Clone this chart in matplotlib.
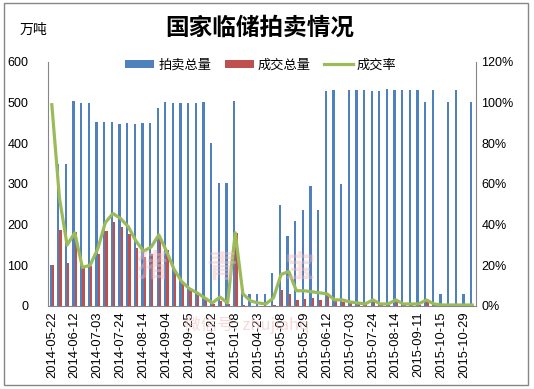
import matplotlib
matplotlib.use("Agg")
import matplotlib.pyplot as plt
import numpy as np
from matplotlib.patches import Rectangle

plt.rcParams['font.family'] = ['Liberation Sans', 'Noto Sans CJK SC', 'DejaVu Sans']

auction = [100, 350, 350, 503, 500, 500, 452, 452, 453, 447, 450, 448, 450, 450,
           486, 501, 500, 500, 500, 500, 501, 400, 302, 302,
           503, 32, 30, 30, 30, 81, 248, 172, 209, 236, 295, 236,
           528, 531, 300, 530, 530, 530, 528, 528, 533, 530, 530, 530, 530, 501,
           530, 30, 501, 530, 30, 501]
deal = [100, 187, 105, 181, 93, 98, 128, 184, 206, 194, 177, 143, 121, 128,
        170, 138, 88, 59, 42, 32, 20, 6, 13, 4,
        180, 2, 1, 0.5, 0.5, 3, 39, 29, 15, 17, 20, 15,
        27, 12, 9, 8, 6, 4, 12, 3, 3, 12, 3, 3, 3, 12,
        3, 0.5, 3, 3, 0.5, 2]
rate = [99, 53, 30, 36, 19, 20, 28, 41, 45.5, 43, 39, 32, 27, 29,
        35, 27, 18, 12, 8.5, 6.5, 4, 1.5, 4.4, 1.5,
        36, 6, 2.5, 1.5, 1, 4, 15.5, 17, 7.5, 7.5, 7, 6.5,
        6, 3, 3, 2, 1.5, 1, 3, 1, 1, 3, 1, 1, 1, 3,
        1, 0.5, 0.5, 0.5, 0.5, 0.5]
tick_labels = ['2014-05-22', '2014-06-12', '2014-07-03', '2014-07-24', '2014-08-14',
               '2014-09-04', '2014-09-25', '2014-10-22', '2015-01-08', '2015-04-23',
               '2015-05-08', '2015-05-29', '2015-06-12', '2015-07-03', '2015-07-24',
               '2015-08-14', '2015-09-11', '2015-10-15', '2015-10-29']
tick_step = 3

blue = '#4F81BD'
red = '#C0504D'
green = '#9BBB59'
gray = '#868686'

fig = plt.figure(figsize=(5.34, 3.89), dpi=100)
fig.patches.append(Rectangle((4/534, 1 - 385/389), 524/534, 382/389, transform=fig.transFigure,
                             fill=False, edgecolor=gray, linewidth=1.0))

ax = fig.add_axes([48/534, 1 - 306/389, 428/534, 244/389])
x = np.arange(len(auction))
w = 0.3
b1 = ax.bar(x - w/2, auction, width=w, color=blue, label='拍卖总量', zorder=2)
b2 = ax.bar(x + w/2, deal, width=w, color=red, label='成交总量', zorder=2)
ax.set_xlim(-0.5, len(auction) - 0.5)
ax.set_ylim(0, 600)
ax.set_yticks(range(0, 601, 100))
ax.set_xticks(x[::tick_step])
ax.set_xticklabels(tick_labels, rotation=90, fontsize=9.3)
ax.tick_params(axis='both', length=0, pad=4)
ax.tick_params(axis='y', labelsize=9, pad=14)
for s in ['top', 'right']:
    ax.spines[s].set_visible(False)
for s in ['left', 'bottom']:
    ax.spines[s].set_color(gray)

ax2 = ax.twinx()
l1, = ax2.plot(x, rate, color=green, linewidth=2.3, label='成交率', zorder=3)
ax2.set_ylim(0, 120)
ax2.set_yticks(range(0, 121, 20))
ax2.set_yticklabels([f'{v}%' for v in range(0, 121, 20)], fontsize=9)
ax2.tick_params(axis='y', length=0, pad=4)
for s in ['top', 'left', 'bottom']:
    ax2.spines[s].set_visible(False)
ax2.spines['right'].set_color(gray)
ax2.set_xlim(-0.5, len(auction) - 0.5)

fig.text(260/534, 1 - 28/389, '国家临储拍卖情况', ha='center', va='center', fontsize=17,
         fontweight='bold', family=['Noto Sans CJK SC'])
fig.text(33/534, 1 - 30/389, '万吨', ha='center', va='center', fontsize=10,
         family=['Noto Sans CJK SC'])

fig.legend(handles=[b1, b2, l1], loc='center', bbox_to_anchor=(261/534, 1 - 65/389),
           ncol=3, frameon=False, handlelength=2.2, handleheight=0.6,
           columnspacing=1.0, handletextpad=0.3, prop={'family': ['Noto Sans CJK SC'], 'size': 9.5})

# faint watermark text
for cx, ch in [(152, '猪'), (222, '青'), (300, '宝')]:
    fig.text(cx/534, 1 - 268/389, ch, ha='center', va='center', fontsize=22,
             color='#F2B8B8', alpha=0.45, family=['Noto Sans CJK SC'], fontweight='bold', zorder=1)
fig.text(247/534, 1 - 325/389, '微信号: zhujiahq', ha='center', va='center', fontsize=12,
         color='#F4C0C0', alpha=0.6, family=['Noto Sans CJK SC', 'DejaVu Sans'], zorder=1)

fig.savefig('out.png', dpi=100)
